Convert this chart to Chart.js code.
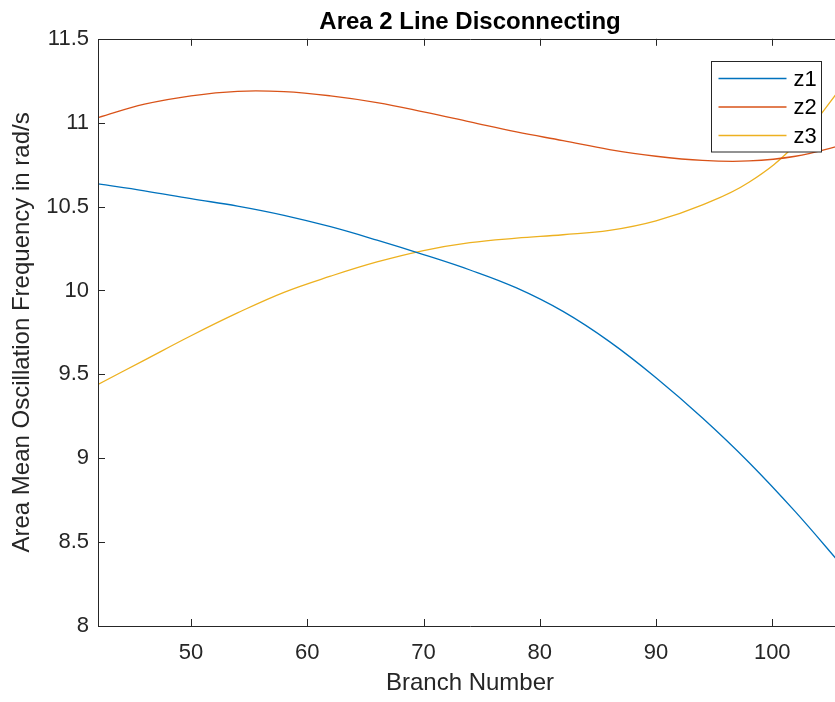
<!DOCTYPE html>
<html>
<head>
<meta charset="utf-8">
<script src="https://cdn.jsdelivr.net/npm/chart.js@4/dist/chart.umd.min.js"></script>
<style>
  html, body { margin: 0; padding: 0; background: #fff; overflow: hidden; }
  #wrap { position: relative; width: 860px; height: 702px; }
</style>
</head>
<body>
<div id="wrap"><canvas id="c" width="860" height="702"></canvas></div>
<script>
// ---- data ----
const branchNumbers = [42, 46, 50, 54, 58, 62, 66, 70, 74, 78, 82, 86, 90, 94, 98, 102, 106];
const z1 = [10.635, 10.594, 10.547, 10.503, 10.448, 10.38, 10.3, 10.214, 10.122, 10.015, 9.875, 9.695, 9.48, 9.24, 8.975, 8.68, 8.36];
const z2 = [11.03, 11.11, 11.16, 11.187, 11.185, 11.16, 11.12, 11.065, 11.005, 10.945, 10.893, 10.84, 10.80, 10.775, 10.772, 10.80, 10.865];
const z3 = [9.44, 9.585, 9.73, 9.866, 9.989, 10.085, 10.17, 10.238, 10.285, 10.312, 10.332, 10.358, 10.415, 10.51, 10.645, 10.87, 11.215];
const seriesNames = ['z1', 'z2', 'z3'];
const seriesColors = ['#0072BD', '#D95319', '#EDB120'];
const chartTitle = 'Area 2 Line Disconnecting';
const xTitle = 'Branch Number';
const yTitle = 'Area Mean Oscillation Frequency in rad/s';

const FONT = "'Liberation Sans', Arial, Helvetica, sans-serif";
const AXIS = '#262626';

const toPoints = ys => branchNumbers.map((x, i) => ({ x, y: ys[i] }));

// inward ticks on all four sides + box
const boxTicks = {
  id: 'boxTicks',
  afterDatasetsDraw(chart) {
    const { ctx, chartArea: a, scales } = chart;
    ctx.save();
    ctx.strokeStyle = AXIS;
    ctx.lineWidth = 1;
    ctx.beginPath();
    ctx.rect(Math.round(a.left) + 0.5, Math.round(a.top) + 0.5, Math.round(a.right - a.left), Math.round(a.bottom - a.top));
    const L = 7;
    scales.x.ticks.forEach(t => {
      const px = Math.round(scales.x.getPixelForValue(t.value)) + 0.5;
      ctx.moveTo(px, a.bottom); ctx.lineTo(px, a.bottom - L);
      ctx.moveTo(px, a.top); ctx.lineTo(px, a.top + L);
    });
    scales.y.ticks.forEach(t => {
      const py = Math.round(scales.y.getPixelForValue(t.value)) + 0.5;
      ctx.moveTo(a.left, py); ctx.lineTo(a.left + L, py);
      ctx.moveTo(a.right, py); ctx.lineTo(a.right - L, py);
    });
    ctx.stroke();
    ctx.restore();
  }
};

// MATLAB-style legend box inside the axes (top right)
const boxLegend = {
  id: 'boxLegend',
  afterDraw(chart) {
    const { ctx, chartArea: a } = chart;
    const w = 110, rowH = 28.5;
    const h = 90.5;
    const x0 = Math.round(a.right - 131.5) + 0.5;
    const y0 = Math.round(a.top + 22) + 0.5;
    ctx.save();
    ctx.fillStyle = '#fff';
    ctx.fillRect(x0, y0, w, h);
    ctx.strokeStyle = AXIS;
    ctx.lineWidth = 1;
    ctx.strokeRect(x0, y0, w, h);
    ctx.font = '22px ' + FONT;
    ctx.textBaseline = 'middle';
    ctx.textAlign = 'left';
    chart.data.datasets.forEach((ds, i) => {
      const y = y0 + 17 + i * rowH;
      ctx.strokeStyle = ds.borderColor;
      ctx.lineWidth = 1.3;
      ctx.beginPath();
      ctx.moveTo(x0 + 7, y); ctx.lineTo(x0 + 75, y);
      ctx.stroke();
      ctx.fillStyle = '#000';
      ctx.fillText(ds.label, x0 + 82, y + 1);
    });
    ctx.restore();
  }
};

new Chart(document.getElementById('c'), {
  type: 'line',
  data: {
    datasets: [z1, z2, z3].map((ys, i) => ({
      label: seriesNames[i],
      data: toPoints(ys),
      borderColor: seriesColors[i],
      backgroundColor: seriesColors[i],
      borderWidth: 1.3,
      pointRadius: 0,
      tension: 0.4,
      fill: false
    }))
  },
  options: {
    responsive: false,
    animation: false,
    events: [],
    layout: { padding: { left: 0, right: 18, top: 0, bottom: 0 } },
    plugins: {
      legend: { display: false },
      tooltip: { enabled: false },
      title: {
        display: true,
        text: chartTitle,
        fullSize: false,
        color: '#000',
        font: { family: FONT, size: 24, weight: 'bold' },
        padding: { top: 8, bottom: 2 }
      }
    },
    scales: {
      x: {
        type: 'linear',
        min: 42,
        max: 106,
        grid: { display: false, drawTicks: false },
        border: { display: false },
        ticks: {
          stepSize: 10,
          includeBounds: false,
          color: AXIS,
          padding: 14,
          maxRotation: 0,
          font: { family: FONT, size: 22 }
        },
        title: {
          display: true,
          text: xTitle,
          color: AXIS,
          font: { family: FONT, size: 24 },
          padding: { top: 0, bottom: 4 }
        },
        afterFit(s) { s.height = 702 - 626; }
      },
      y: {
        type: 'linear',
        min: 8,
        max: 11.5,
        grid: { display: false, drawTicks: false },
        border: { display: false },
        ticks: {
          stepSize: 0.5,
          color: AXIS,
          padding: 9,
          font: { family: FONT, size: 22 },
          callback: v => String(Math.round(v * 10) / 10)
        },
        title: {
          display: true,
          text: yTitle,
          color: AXIS,
          font: { family: FONT, size: 24 },
          padding: { top: 8, bottom: 0 }
        },
        afterFit(s) { s.width = 98; }
      }
    }
  },
  plugins: [boxTicks, boxLegend]
});
</script>
</body>
</html>
